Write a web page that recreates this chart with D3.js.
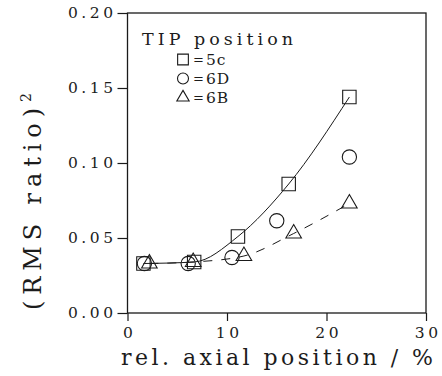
<!DOCTYPE html>
<html>
<head>
<meta charset="utf-8">
<script src="https://cdn.jsdelivr.net/npm/d3@7"></script>
<style>
  html, body { margin: 0; padding: 0; background: #fff; }
  svg { display: block; }
  text { font-family: "DejaVu Serif"; fill: #1c1c1c; }
</style>
</head>
<body>
<svg id="chart" width="442" height="376"></svg>
<script>
// TIP position series: relative axial position (%) and (RMS ratio)^2
const series = ["5c", "6D", "6B"];
const x5c = [1.6, 6.7, 11.1, 16.2, 22.3];
const y5c = [0.033, 0.034, 0.051, 0.086, 0.144];
const x6D = [1.7, 6.1, 10.5, 15.0, 22.3];
const y6D = [0.033, 0.033, 0.037, 0.0615, 0.104];
const x6B = [2.2, 6.6, 11.7, 16.7, 22.3];
const y6B = [0.033, 0.034, 0.038, 0.053, 0.073];

const xTicks = [0, 10, 20, 30];
const yTicks = [0, 0.05, 0.10, 0.15, 0.20];

const xTitle = "rel. axial position / %";
const yTitle = "(RMS ratio)";
const yTitleSup = "2";
const legendTitle = "TIP position";

const svg = d3.select("#chart");
const ink = "#1a1a1a";

const x = d3.scaleLinear().domain([0, 30]).range([127.5, 426]);
const y = d3.scaleLinear().domain([0, 0.2]).range([313, 13]);

// axes (ticks outward), frame drawn separately
const gx = svg.append("g").attr("transform", `translate(0,${y(0)})`)
  .call(d3.axisBottom(x).tickValues(xTicks).tickSize(8).tickSizeOuter(0).tickPadding(6)
    .tickFormat(d3.format("d")));
const gy = svg.append("g").attr("transform", `translate(${x(0)},0)`)
  .call(d3.axisLeft(y).tickValues(yTicks).tickSize(10).tickSizeOuter(0).tickPadding(1)
    .tickFormat(d3.format(".2f")));
[gx, gy].forEach(g => {
  g.attr("font-family", null);
  g.select(".domain").remove();
  g.selectAll(".tick line").attr("stroke", ink).attr("stroke-width", 1.2);
  g.selectAll(".tick text")
    .attr("font-size", 15.5)
    .style("letter-spacing", "3.5px");
});
gx.selectAll(".tick text").attr("dx", "1.7px");

svg.append("rect")
  .attr("x", x(0)).attr("y", y(0.2))
  .attr("width", x(30) - x(0)).attr("height", y(0) - y(0.2))
  .attr("fill", "none").attr("stroke", ink).attr("stroke-width", 1.3);

// fitted curves
const pts = (xs, ys) => xs.map((v, i) => [v, ys[i]]);
const line = d3.line().x(d => x(d[0])).y(d => y(d[1])).curve(d3.curveMonotoneX);

svg.append("path").datum(pts(x5c, y5c))
  .attr("d", line).attr("fill", "none").attr("stroke", ink).attr("stroke-width", 1);
svg.append("path").datum(pts(x6B, y6B))
  .attr("d", line).attr("fill", "none").attr("stroke", ink).attr("stroke-width", 1)
  .attr("stroke-dasharray", "9,9");

// markers
const shapes = { "5c": d3.symbolSquare, "6D": d3.symbolCircle, "6B": d3.symbolTriangle };
const plotSizes = { "5c": 180, "6D": 160, "6B": 105 };
const legendSizes = { "5c": 115, "6D": 95, "6B": 66 };
const data = { "5c": pts(x5c, y5c), "6D": pts(x6D, y6D), "6B": pts(x6B, y6B) };

series.forEach(s => {
  svg.append("g").selectAll("path").data(data[s]).join("path")
    .attr("transform", d => `translate(${x(d[0])},${y(d[1])})`)
    .attr("d", d3.symbol().type(shapes[s]).size(plotSizes[s]))
    .attr("fill", "none").attr("stroke", ink).attr("stroke-width", 1.1);
});

// legend
const lg = svg.append("g");
lg.append("text").attr("x", 142).attr("y", 45)
  .attr("font-size", 17.5).attr("textLength", 151).attr("lengthAdjust", "spacing")
  .text(legendTitle);
series.forEach((s, i) => {
  const cy = 59.5 + i * 19;
  lg.append("path")
    .attr("transform", `translate(183,${cy})`)
    .attr("d", d3.symbol().type(shapes[s]).size(legendSizes[s]))
    .attr("fill", "none").attr("stroke", ink).attr("stroke-width", 1.1);
  lg.append("text").attr("x", 193).attr("y", cy + 4.5).attr("font-size", 13).text("=");
  lg.append("text").attr("x", 206).attr("y", cy + 5.5).attr("font-size", 15.5)
    .style("letter-spacing", "1px").text(s);
});

// axis titles
svg.append("text").attr("x", 121).attr("y", 365)
  .attr("font-size", 22).attr("textLength", 312).attr("lengthAdjust", "spacing")
  .text(xTitle);

const yt = svg.append("text")
  .attr("transform", "translate(41,310) rotate(-90)")
  .attr("font-size", 24);
const ytMain = yt.append("tspan").text(yTitle);
const natural = ytMain.node().getComputedTextLength();
ytMain.style("letter-spacing", ((208 - natural) / yTitle.length) + "px");
yt.append("tspan").attr("dy", -10).attr("font-size", 14).text(yTitleSup);
</script>
</body>
</html>
